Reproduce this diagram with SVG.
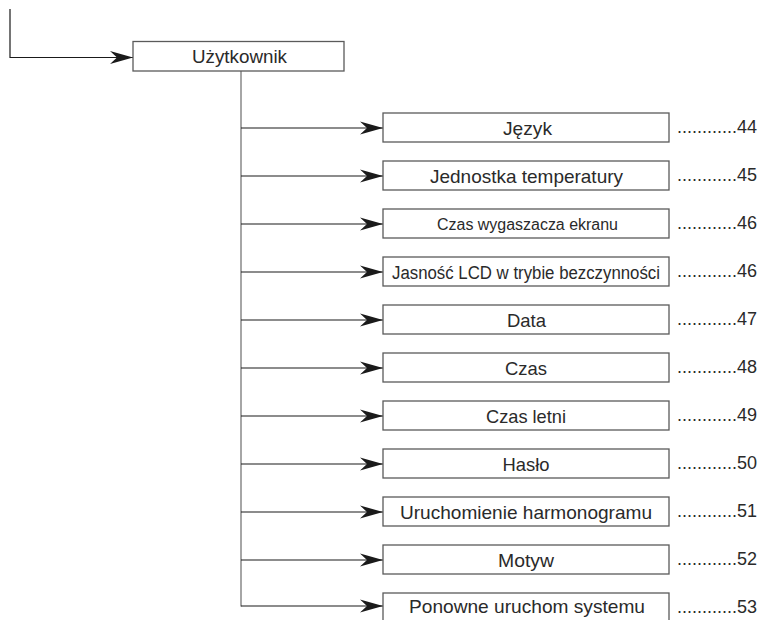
<svg xmlns="http://www.w3.org/2000/svg" width="769" height="620" viewBox="0 0 769 620">
<defs>
<marker id="ah" markerUnits="userSpaceOnUse" markerWidth="24" markerHeight="14" viewBox="-23 -7 24 14" refX="0" refY="0" orient="auto">
<path d="M0,0 L-23,-6.5 L-16,0 L-23,6.5 Z" fill="#1a1a1a"/>
</marker>
<style>
.box{fill:#fff;stroke:#5a5a5a;stroke-width:1.3}
.lbl{font-family:"Liberation Sans",Arial,sans-serif;font-size:19px;fill:#2a2a2a;text-anchor:middle}
.pg{font-family:"Liberation Sans",Arial,sans-serif;font-size:18px;fill:#2a2a2a}
.ln{fill:none;stroke:#1a1a1a;stroke-width:1.2}
.trunk{fill:none;stroke:#808080;stroke-width:1.4}
</style>
</defs>
<g id="connectors">
<path class="ln" d="M10,9 V57.5 H133" marker-end="url(#ah)"/>
<path class="trunk" d="M241,71 V606.5"/>
<path class="ln" d="M241,128 H383" marker-end="url(#ah)"/>
<path class="ln" d="M241,176 H383" marker-end="url(#ah)"/>
<path class="ln" d="M241,224 H383" marker-end="url(#ah)"/>
<path class="ln" d="M241,272 H383" marker-end="url(#ah)"/>
<path class="ln" d="M241,320 H383" marker-end="url(#ah)"/>
<path class="ln" d="M241,368 H383" marker-end="url(#ah)"/>
<path class="ln" d="M241,416 H383" marker-end="url(#ah)"/>
<path class="ln" d="M241,464 H383" marker-end="url(#ah)"/>
<path class="ln" d="M241,512 H383" marker-end="url(#ah)"/>
<path class="ln" d="M241,560 H383" marker-end="url(#ah)"/>
<path class="ln" d="M241,606 H383" marker-end="url(#ah)"/>
</g>
<g id="uzytkownik">
<rect class="box" x="133" y="41.5" width="211" height="29.5"/>
<text class="lbl" x="239.5" y="63" textLength="95" lengthAdjust="spacingAndGlyphs">Użytkownik</text>
</g>
<g id="jezyk">
<rect class="box" x="383" y="113" width="286" height="29"/>
<text class="lbl" x="527.5" y="134.5" textLength="49" lengthAdjust="spacingAndGlyphs">Język</text>
<text class="pg" x="677" y="133" textLength="80">............44</text>
</g>
<g id="jednostka">
<rect class="box" x="383" y="161" width="286" height="29"/>
<text class="lbl" x="526.5" y="182.5" textLength="193" lengthAdjust="spacingAndGlyphs">Jednostka temperatury</text>
<text class="pg" x="677" y="181" textLength="80">............45</text>
</g>
<g id="wygaszacz">
<rect class="box" x="383" y="209" width="286" height="29"/>
<text class="lbl" x="527.5" y="229.5" style="font-size:16px" textLength="181" lengthAdjust="spacingAndGlyphs">Czas wygaszacza ekranu</text>
<text class="pg" x="677" y="229" textLength="80">............46</text>
</g>
<g id="jasnosc">
<rect class="box" x="383" y="257" width="286" height="29"/>
<text class="lbl" x="526" y="278.5" style="font-size:18px" textLength="268" lengthAdjust="spacingAndGlyphs">Jasność LCD w trybie bezczynności</text>
<text class="pg" x="677" y="277" textLength="80">............46</text>
</g>
<g id="data">
<rect class="box" x="383" y="305" width="286" height="29"/>
<text class="lbl" x="526.5" y="326.5" textLength="39" lengthAdjust="spacingAndGlyphs">Data</text>
<text class="pg" x="677" y="325" textLength="80">............47</text>
</g>
<g id="czas">
<rect class="box" x="383" y="353" width="286" height="29"/>
<text class="lbl" x="526" y="374.5" textLength="42" lengthAdjust="spacingAndGlyphs">Czas</text>
<text class="pg" x="677" y="373" textLength="80">............48</text>
</g>
<g id="czas-letni">
<rect class="box" x="383" y="401" width="286" height="29"/>
<text class="lbl" x="526" y="422.5" textLength="80" lengthAdjust="spacingAndGlyphs">Czas letni</text>
<text class="pg" x="677" y="421" textLength="80">............49</text>
</g>
<g id="haslo">
<rect class="box" x="383" y="449" width="286" height="29"/>
<text class="lbl" x="526" y="470.5" textLength="47" lengthAdjust="spacingAndGlyphs">Hasło</text>
<text class="pg" x="677" y="469" textLength="80">............50</text>
</g>
<g id="harmonogram">
<rect class="box" x="383" y="497" width="286" height="29"/>
<text class="lbl" x="526" y="518.5" textLength="252" lengthAdjust="spacingAndGlyphs">Uruchomienie harmonogramu</text>
<text class="pg" x="677" y="517" textLength="80">............51</text>
</g>
<g id="motyw">
<rect class="box" x="383" y="545" width="286" height="29"/>
<text class="lbl" x="526" y="566.5" textLength="56" lengthAdjust="spacingAndGlyphs">Motyw</text>
<text class="pg" x="677" y="565" textLength="80">............52</text>
</g>
<g id="ponowne">
<rect class="box" x="383" y="593" width="286" height="29"/>
<text class="lbl" x="527" y="613" textLength="236" lengthAdjust="spacingAndGlyphs">Ponowne uruchom systemu</text>
<text class="pg" x="677" y="613" textLength="80">............53</text>
</g>
</svg>
